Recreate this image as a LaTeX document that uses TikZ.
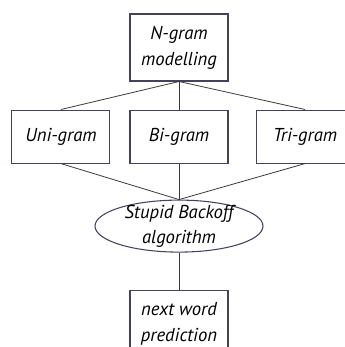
\documentclass[tikz,border=0pt]{standalone}
\usepackage{fontspec}
\setmainfont{PT Sans}
\usetikzlibrary{positioning, shapes.geometric}

\definecolor{boxline}{HTML}{43435F}
\definecolor{linkline}{HTML}{3A3A3A}

\tikzset{
	gram_box/.style={draw=boxline, line width=0.8pt, rectangle, minimum width=73.5pt, inner sep=2pt, align=center, font=\itshape\fontsize{14}{19.5}\selectfont},
	link/.style={draw=linkline, line width=0.6pt}
}

\begin{document}
\begin{tikzpicture}
	\useasboundingbox (0,0) rectangle (258pt,-260.25pt);

	% Model
	\begin{scope}
		\node (ngram) at (134.25pt,-35.6pt) [gram_box, minimum height=50.25pt] {N-gram\\modelling};
	\end{scope}

	% Grams
	\begin{scope}
		\node (bi_gram) [gram_box, minimum height=39.75pt, below = 21pt of ngram] {Bi-gram};
		\node (uni_gram) [gram_box, minimum height=39.75pt, left = 14.25pt of bi_gram] {Uni-gram};
		\node (tri_gram) [gram_box, minimum height=39.75pt, right = 20.25pt of bi_gram] {Tri-gram};
	\end{scope}

	% Algorithm and output
	\begin{scope}
		\node (backoff) [draw=boxline, line width=0.8pt, ellipse, minimum width=126pt, minimum height=39pt, inner xsep=0pt, inner ysep=-3pt, align=center, font=\itshape\fontsize{14}{19}\selectfont, below = 27pt of bi_gram] {Stupid Backoff\\algorithm};
		\node (next_word) [gram_box, minimum height=50.25pt, below = 27.75pt of backoff] {next word\\prediction};
	\end{scope}

	% Links
	\draw [link] (ngram.south) -- (uni_gram.north);
	\draw [link] (ngram.south) -- (bi_gram.north);
	\draw [link] (ngram.south) -- (tri_gram.north);
	\draw [link] (uni_gram.south) -- (backoff.north);
	\draw [link] (bi_gram.south) -- (backoff.north);
	\draw [link] (tri_gram.south) -- (backoff.north);
	\draw [link] (backoff.south) -- (next_word.north);
\end{tikzpicture}
\end{document}
